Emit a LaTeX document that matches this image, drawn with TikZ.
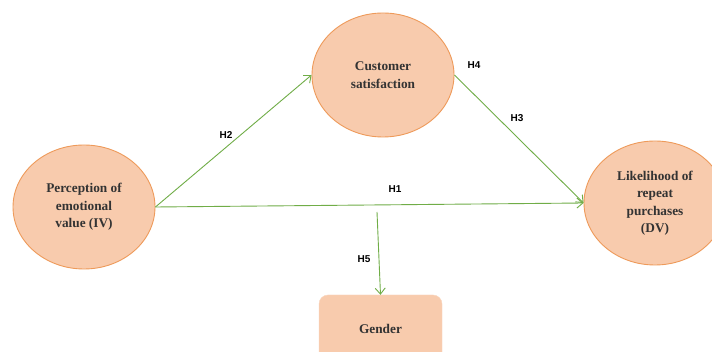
\documentclass[tikz,border=0pt]{standalone}
\usepackage{fontspec}
\setmainfont{Liberation Serif}
\newfontfamily\labfont{Liberation Sans}
\usetikzlibrary{shapes.geometric,arrows.meta}
\definecolor{fillc}{HTML}{F8CBAD}
\definecolor{edgec}{HTML}{EE9A5A}
\definecolor{arrc}{HTML}{70AD47}
\definecolor{txtc}{HTML}{333333}
\tikzset{
  var/.style={ellipse, draw=edgec, fill=fillc, line width=0.9pt, inner sep=0pt,
    minimum width=142pt, minimum height=124pt, align=center, text=txtc,
    font=\fontsize{13.3}{17.5}\selectfont\bfseries},
  gbox/.style={rectangle, rounded corners=9pt, draw=fillc!80!white, fill=fillc, inner sep=0pt,
    minimum width=123pt, minimum height=68pt, text=txtc,
    font=\fontsize{13.3}{17.5}\selectfont\bfseries},
  hyp/.style={font=\labfont\fontsize{10}{11}\selectfont\bfseries, text=black, inner sep=0pt},
  arr/.style={draw=arrc, line width=0.9pt, -{Straight Barb[length=6pt,width=10pt,line width=0.9pt]}}
}
\begin{document}
\begin{tikzpicture}[x=1pt,y=-1pt]
\useasboundingbox (0,0) rectangle (712,352);
\clip (0,0) rectangle (712,352);
\fill[white] (0,0) rectangle (712,352);
\node[var] (A) at (84,207) {Perception of\\emotional\\value (IV)};
\node[var] (B) at (383,75) {Customer\\satisfaction};
\node[var] (C) at (655,203) {Likelihood of\\repeat\\purchases\\(DV)};
\node[gbox] (G) at (380.5,329) {Gender};
\coordinate (M) at (377,212);
\draw[arr] (A.east) -- (B.west);
\draw[arr] (B.east) -- (C.west);
\draw[arr] (A.east) -- (C.west);
\draw[arr] (M) -- (G.north);
\node[hyp] (h2) at (226,135) {H2};
\node[hyp] (h4) at (474,65) {H4};
\node[hyp] (h3) at (517,118) {H3};
\node[hyp] (h1) at (395,189) {H1};
\node[hyp] (h5) at (364,259) {H5};
\end{tikzpicture}
\end{document}
